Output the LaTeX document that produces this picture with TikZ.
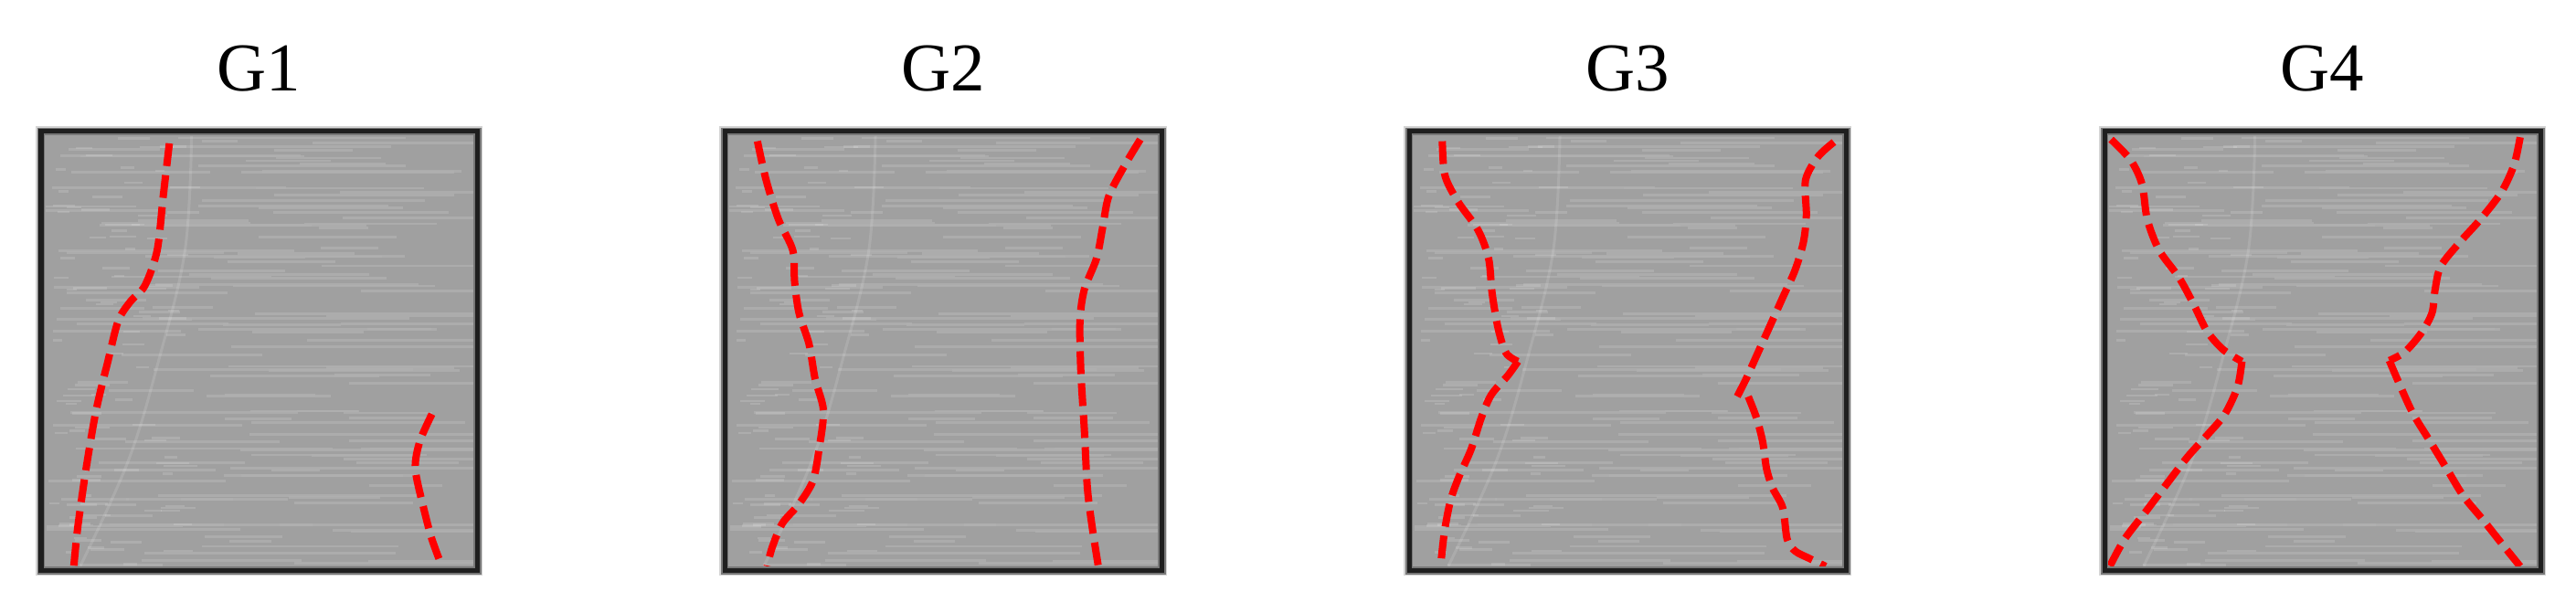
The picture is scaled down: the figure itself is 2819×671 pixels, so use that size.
\documentclass[tikz,border=0pt]{standalone}
\usepackage{fontspec}
\setmainfont{Liberation Serif}
\definecolor{panelgray}{RGB}{160,160,160}
\definecolor{streakgray}{RGB}{176,176,176}
\definecolor{halo}{RGB}{212,212,212}
\definecolor{innerband}{RGB}{120,120,120}
\tikzset{
  titlelabel/.style={anchor=base, font=\fontsize{21.3pt}{24pt}\selectfont, inner sep=0pt},
  streak/.style={draw=streakgray, line width=0.028cm, opacity=0.8},
  speck/.style={draw=white, opacity=0.14, line width=0.025cm},
  seam/.style={draw=white, opacity=0.12, line width=0.03cm},
  boxhalo/.style={draw=halo, line width=0.12cm},
  boxinner/.style={draw=innerband, line width=0.085cm},
  boxline/.style={draw=black!88, line width=0.05cm},
  reddash/.style={draw=red, line width=0.08cm, dash pattern=on 0.25cm off 0.1cm, smooth, tension=0.5},
}
\newcommand\panelbg{%
  \draw[boxhalo] (0,0) rectangle (1,1);
  \fill[panelgray] (0,0) rectangle (1,1);
  \pgfmathsetseed{4242}
  \foreach \k in {1,...,130}{
    \pgfmathsetmacro\yy{0.01+0.98*rnd}
    \pgfmathsetmacro\xa{0.01+0.75*rnd}
    \pgfmathsetmacro\xb{min(\xa+0.08+0.55*rnd,0.99)}
    \draw[streak] (\xa,\yy) -- (\xb,\yy);
  }
  \foreach \k in {1,...,90}{
    \pgfmathsetmacro\yy{0.01+0.98*rnd}
    \pgfmathsetmacro\xa{0.01+0.3*rnd}
    \pgfmathsetmacro\xb{\xa+0.02+0.06*rnd}
    \draw[speck] (\xa,\yy) -- (\xb,\yy);
  }
  \draw[seam] plot[smooth, tension=0.6] coordinates {(0.345,0.01) (0.33,0.27) (0.27,0.52) (0.2,0.75) (0.09,0.99)};
}
\newcommand\panelframe{%
  \draw[boxinner] (0,0) rectangle (1,1);
  \draw[boxline] (0,0) rectangle (1,1);
}
\begin{document}
\begin{tikzpicture}[x=0.01cm, y=-0.01cm]
\useasboundingbox (0,0) rectangle (2819,671);
\fill[white] (0,0) rectangle (2819,671);

% titles
\node[titlelabel] (t1) at (283.5,100) {G1};
\node[titlelabel] (t2) at (1032,100) {G2};
\node[titlelabel] (t3) at (1781,100) {G3};
\node[titlelabel] (t4) at (2541.5,100) {G4};

% ---------- G1 ----------
\begin{scope}[shift={(45,144)}, x=4.77cm, y=-4.80cm]
  \panelbg
  \draw[reddash] plot coordinates {(0.294,0.027) (0.280,0.147) (0.266,0.271) (0.238,0.351) (0.205,0.387) (0.177,0.431) (0.154,0.52) (0.126,0.636) (0.103,0.769) (0.084,0.902) (0.075,0.991)};
  \draw[reddash] plot coordinates {(0.896,0.644) (0.868,0.707) (0.858,0.769) (0.877,0.858) (0.896,0.929) (0.919,0.991)};
  \panelframe
\end{scope}

% ---------- G2 ----------
\begin{scope}[shift={(793,144)}, x=4.78cm, y=-4.80cm]
  \panelbg
  \draw[reddash] plot coordinates {(0.075,0.022) (0.095,0.111) (0.123,0.2) (0.156,0.271) (0.160,0.342) (0.170,0.413) (0.193,0.484) (0.207,0.564) (0.226,0.636) (0.216,0.724) (0.202,0.796) (0.170,0.849) (0.132,0.893) (0.109,0.947) (0.097,0.991)};
  \draw[reddash] plot coordinates {(0.951,0.018) (0.916,0.076) (0.879,0.147) (0.865,0.218) (0.851,0.289) (0.823,0.36) (0.813,0.431) (0.815,0.547) (0.823,0.68) (0.830,0.813) (0.841,0.902) (0.855,0.991)};
  \panelframe
\end{scope}

% ---------- G3 ----------
\begin{scope}[shift={(1542,144)}, x=4.78cm, y=-4.80cm]
  \panelbg
  \draw[reddash] plot coordinates {(0.076,0.022) (0.082,0.1) (0.112,0.16) (0.158,0.225) (0.182,0.29) (0.190,0.369) (0.204,0.45) (0.222,0.505) (0.249,0.524)};
  \draw[reddash] plot coordinates {(0.249,0.524) (0.226,0.556) (0.188,0.6) (0.165,0.653) (0.142,0.724) (0.114,0.787) (0.095,0.84) (0.081,0.911) (0.072,0.991)};
  \draw[reddash] plot coordinates {(0.972,0.024) (0.935,0.058) (0.907,0.111) (0.909,0.191) (0.902,0.253) (0.883,0.316) (0.855,0.378) (0.823,0.449) (0.795,0.511) (0.771,0.564) (0.746,0.613)};
  \draw[reddash] plot coordinates {(0.776,0.604) (0.795,0.653) (0.809,0.707) (0.818,0.769) (0.832,0.813) (0.855,0.858) (0.865,0.929) (0.883,0.956) (0.916,0.973) (0.953,0.991)};
  \panelframe
\end{scope}

% ---------- G4 ----------
\begin{scope}[shift={(2303,144)}, x=4.77cm, y=-4.80cm]
  \panelbg
  \draw[reddash] plot coordinates {(0.015,0.018) (0.060,0.065) (0.086,0.12) (0.098,0.2) (0.125,0.27) (0.171,0.333) (0.205,0.395) (0.235,0.455) (0.272,0.497) (0.315,0.524)};
  \draw[reddash] plot coordinates {(0.315,0.524) (0.305,0.582) (0.276,0.644) (0.238,0.689) (0.19,0.742) (0.142,0.804) (0.094,0.867) (0.046,0.929) (0.012,0.991)};
  \draw[reddash] plot coordinates {(0.953,0.013) (0.939,0.076) (0.910,0.138) (0.862,0.2) (0.814,0.253) (0.771,0.307) (0.758,0.36) (0.751,0.413) (0.727,0.458) (0.689,0.502) (0.653,0.522)};
  \draw[reddash] plot coordinates {(0.653,0.522) (0.679,0.582) (0.708,0.644) (0.747,0.707) (0.785,0.769) (0.823,0.831) (0.867,0.884) (0.910,0.938) (0.953,0.991)};
  \panelframe
\end{scope}
\end{tikzpicture}
\end{document}
